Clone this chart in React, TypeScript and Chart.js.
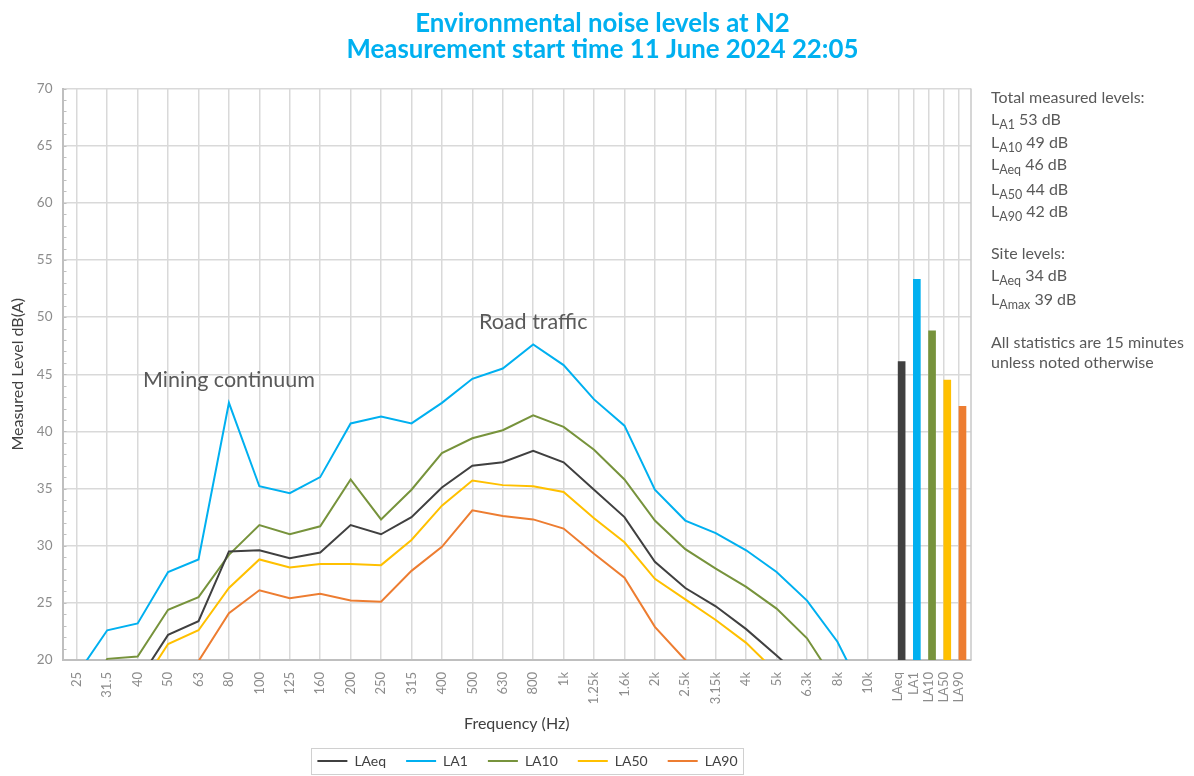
import { useEffect, useRef } from 'react';
import { Chart, registerables } from 'chart.js';

Chart.register(...registerables);

// ---------- data ----------
const frequencies = ['25', '31.5', '40', '50', '63', '80', '100', '125', '160', '200', '250', '315', '400', '500', '630', '800', '1k', '1.25k', '1.6k', '2k', '2.5k', '3.15k', '4k', '5k', '6.3k', '8k', '10k'];

const laeq = [13, 15, 18.1, 22.2, 23.4, 29.5, 29.6, 28.9, 29.4, 31.8, 31.0, 32.5, 35.1, 37.0, 37.3, 38.3, 37.3, 34.9, 32.5, 28.6, 26.3, 24.7, 22.7, 20.4, 18, 16, 14];
const la1 = [18.7, 22.6, 23.2, 27.7, 28.8, 42.5, 35.2, 34.6, 36.0, 40.7, 41.3, 40.7, 42.5, 44.6, 45.5, 47.6, 45.8, 42.8, 40.5, 34.9, 32.2, 31.1, 29.6, 27.7, 25.2, 21.6, 16.3];
const la10 = [15, 20.1, 20.3, 24.4, 25.5, 29.2, 31.8, 31.0, 31.7, 35.8, 32.3, 34.9, 38.1, 39.4, 40.1, 41.4, 40.4, 38.4, 35.8, 32.2, 29.7, 28.0, 26.4, 24.5, 21.9, 17.8, 15];
const la50 = [13, 15, 17.3, 21.4, 22.6, 26.3, 28.8, 28.1, 28.4, 28.4, 28.3, 30.5, 33.5, 35.7, 35.3, 35.2, 34.7, 32.4, 30.3, 27.1, 25.3, 23.5, 21.5, 18.9, 16, 14, 12];
const la90 = [12, 14, 15.5, 17, 19.9, 24.1, 26.1, 25.4, 25.8, 25.2, 25.1, 27.8, 29.9, 33.1, 32.6, 32.3, 31.5, 29.3, 27.2, 22.9, 20.0, 17, 15, 13, 12, 11, 10];

const statLabels = ['LAeq', 'LA1', 'LA10', 'LA50', 'LA90'];
const statTotals = [46.1, 53.3, 48.8, 44.5, 42.2];

const yTicks = [20, 25, 30, 35, 40, 45, 50, 55, 60, 65, 70];

const titleLines = ['Environmental noise levels at N2', 'Measurement start time 11 June 2024 22:05'];

// ---------- styles / layout ----------
const seriesColors = ['#404040', '#00b0f0', '#77933c', '#ffc000', '#ed7d31'];
const FONT = 'Lato';
const STAT_START = frequencies.length;
const STAT_STEP = 0.5;
const BAR_SHIFT = 0.11;
const LEGEND_SHIFT = 42;
const TITLE_SHIFT = 117;
const tickPositions = [
  ...frequencies.map((_, i) => i),
  ...statLabels.map((_, k) => STAT_START + k * STAT_STEP),
];
const tickLabels = [...frequencies, ...statLabels];

const decorPlugin = {
  id: 'decor',
  afterLayout(chart: any) {
    const lg = chart.legend;
    if (lg) {
      lg.left += LEGEND_SHIFT;
      lg.right += LEGEND_SHIFT;
    }
    const tt = chart.titleBlock;
    if (tt) {
      tt.left += TITLE_SHIFT;
      tt.right += TITLE_SHIFT;
    }
  },
  afterDraw(chart: any) {
    const { ctx, chartArea } = chart;
    const x = chart.scales.x;
    const y = chart.scales.y;
    ctx.save();
    // right border
    ctx.strokeStyle = '#c8c8c8';
    ctx.lineWidth = 1.5;
    ctx.beginPath();
    ctx.moveTo(chartArea.right, chartArea.top);
    ctx.lineTo(chartArea.right, chartArea.bottom);
    ctx.stroke();
    // minor ticks on y axis
    ctx.strokeStyle = '#bfbfbf';
    ctx.lineWidth = 1;
    ctx.beginPath();
    for (let v = 20; v <= 70; v++) {
      const py = Math.round(y.getPixelForValue(v)) + 0.5;
      ctx.moveTo(chartArea.left, py);
      ctx.lineTo(chartArea.left + 4, py);
    }
    ctx.stroke();
    // annotations
    ctx.fillStyle = '#595959';
    ctx.font = `21.5px ${FONT}`;
    ctx.textAlign = 'center';
    ctx.textBaseline = 'middle';
    ctx.fillText('Mining continuum', x.getPixelForValue(5), y.getPixelForValue(44.5));
    ctx.fillText('Road traffic', x.getPixelForValue(15), y.getPixelForValue(49.6));
    // legend frame
    const boxes = chart.legend && chart.legend.legendHitBoxes;
    if (boxes && boxes.length) {
      let l = Infinity, r = -Infinity;
      boxes.forEach((b: any) => { l = Math.min(l, b.left); r = Math.max(r, b.left + b.width); });
      const cy = boxes[0].top + boxes[0].height / 2;
      ctx.strokeStyle = '#d0d0d0';
      ctx.lineWidth = 1;
      ctx.strokeRect(Math.round(l - 6) + 0.5, Math.round(cy - 13) + 0.5, Math.round(r - l + 12), 26);
    }
    ctx.restore();
  },
};

const sideStyle: any = {
  position: 'absolute',
  left: 991,
  fontFamily: FONT,
  fontSize: 16,
  color: '#595959',
  lineHeight: '20px',
  whiteSpace: 'nowrap',
};
const subStyle: any = { fontSize: '0.78em', verticalAlign: '-0.3em', lineHeight: 0 };

function Side({ top, children }: { top: number; children: any }) {
  return <div style={{ ...sideStyle, top: top - 10 }}>{children}</div>;
}

export default function App() {
  const ref = useRef<HTMLCanvasElement | null>(null);

  useEffect(() => {
    document.body.style.margin = '0';
    const lineSeries = [laeq, la1, la10, la50, la90];
    const chart = new Chart(ref.current as HTMLCanvasElement, {
      type: 'line',
      data: {
        datasets: [
          ...lineSeries.map((vals, s) => ({
            type: 'line' as const,
            label: statLabels[s],
            data: vals.map((v, i) => ({ x: i, y: v })),
            borderColor: seriesColors[s],
            backgroundColor: seriesColors[s],
            borderWidth: 2,
            pointRadius: 0,
            pointStyle: 'line',
            tension: 0,
            order: 1,
          })),
          {
            type: 'bar' as const,
            label: 'Totals',
            data: statTotals.map((v, k) => ({ x: STAT_START + k * STAT_STEP + BAR_SHIFT, y: v })),
            backgroundColor: seriesColors,
            barThickness: 7,
            grouped: false,
            order: 2,
          },
        ],
      } as any,
      options: {
        responsive: true,
        maintainAspectRatio: false,
        animation: false,
        layout: { padding: { left: 0, right: 223, top: 0, bottom: -2 } },
        plugins: {
          title: {
            display: true,
            text: titleLines,
            color: '#00b0f0',
            font: { family: FONT, size: 25.8, weight: 'bold', lineHeight: 1.008 },
            padding: { top: 11, bottom: 25.5 },
          },
          legend: {
            position: 'bottom',
            labels: {
              usePointStyle: true,
              pointStyleWidth: 30,
              padding: 20,
              color: '#404040',
              font: { family: FONT, size: 14 },
              filter: (item: any) => item.datasetIndex < 5,
            },
          },
          tooltip: { enabled: false },
        },
        scales: {
          x: {
            type: 'linear',
            min: -0.47,
            max: 29.39,
            offset: false,
            afterBuildTicks: (s: any) => { s.ticks = tickPositions.map((v) => ({ value: v })); },
            afterFit: (s: any) => { s.height = 74; },
            grid: { color: '#d9d9d9', lineWidth: 1.5, drawTicks: false, offset: false },
            border: { color: '#bfbfbf', width: 2 },
            ticks: {
              autoSkip: false,
              minRotation: 90,
              maxRotation: 90,
              padding: 12,
              color: '#8c8c8c',
              font: { family: FONT, size: 13 },
              callback: (_v: any, i: number) => tickLabels[i],
            },
            title: {
              display: true,
              text: 'Frequency (Hz)',
              color: '#404040',
              font: { family: FONT, size: 16 },
              padding: { top: 0, bottom: 1 },
            },
          },
          y: {
            min: 20,
            max: 70,
            afterBuildTicks: (s: any) => { s.ticks = yTicks.map((v) => ({ value: v })); },
            afterFit: (s: any) => { s.width = 62.5; },
            grid: { color: '#d9d9d9', lineWidth: 1.5, drawTicks: false },
            border: { color: '#bfbfbf', width: 2 },
            ticks: {
              padding: 10,
              color: '#8c8c8c',
              font: { family: FONT, size: 13.5 },
            },
            title: {
              display: true,
              text: 'Measured Level dB(A)',
              color: '#404040',
              font: { family: FONT, size: 16 },
              padding: { top: 8, bottom: 0 },
            },
          },
        },
      } as any,
      plugins: [decorPlugin],
    });
    return () => chart.destroy();
  }, []);

  return (
    <div style={{ position: 'relative', width: 1194, height: 776, overflow: 'hidden' }}>
      <canvas ref={ref} />
      <Side top={97}>Total measured levels:</Side>
      <Side top={119}>L<sub style={subStyle}>A1</sub> 53 dB</Side>
      <Side top={142}>L<sub style={subStyle}>A10</sub> 49 dB</Side>
      <Side top={164}>L<sub style={subStyle}>Aeq</sub> 46 dB</Side>
      <Side top={189}>L<sub style={subStyle}>A50</sub> 44 dB</Side>
      <Side top={211}>L<sub style={subStyle}>A90</sub> 42 dB</Side>
      <Side top={253}>Site levels:</Side>
      <Side top={275}>L<sub style={subStyle}>Aeq</sub> 34 dB</Side>
      <Side top={299}>L<sub style={subStyle}>Amax</sub> 39 dB</Side>
      <Side top={342}>All statistics are 15 minutes</Side>
      <Side top={362}>unless noted otherwise</Side>
    </div>
  );
}
